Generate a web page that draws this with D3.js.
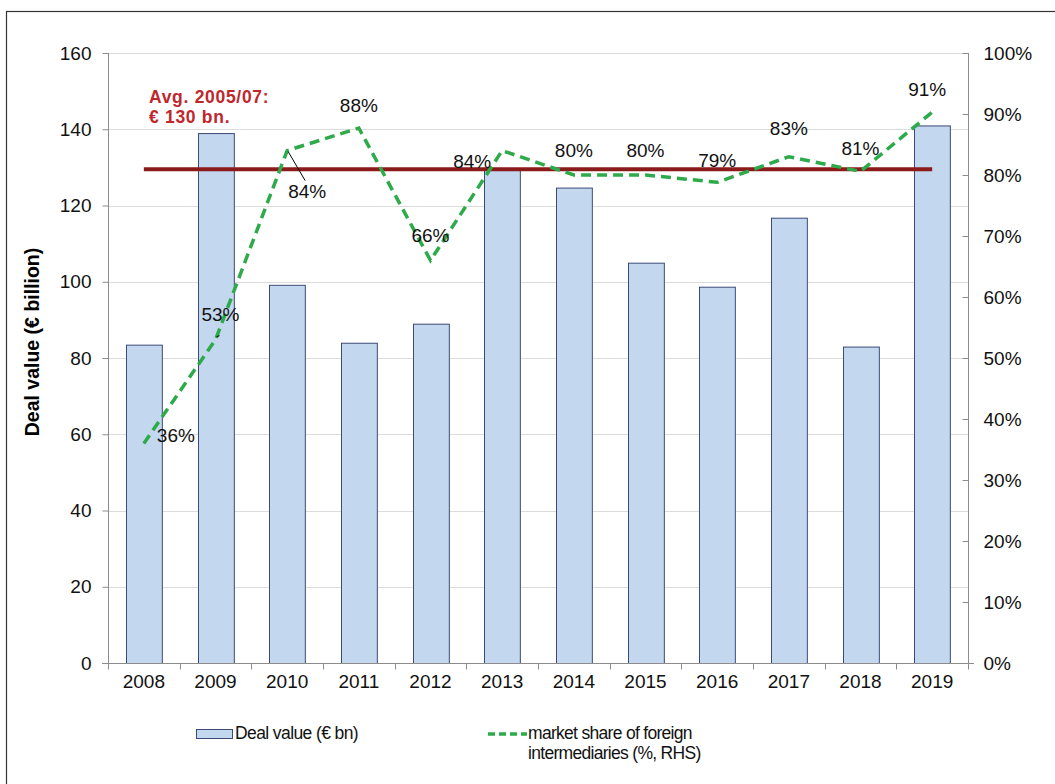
<!DOCTYPE html>
<html>
<head>
<meta charset="utf-8">
<script src="https://cdn.jsdelivr.net/npm/d3@7"></script>
<style>
  body { margin: 0; background: #fff; }
  text { font-family: "Liberation Sans", Arial, Helvetica, sans-serif; }
</style>
</head>
<body>
<svg id="chart" width="1055" height="784"></svg>
<script>
// ---- data ----
const years = ["2008","2009","2010","2011","2012","2013","2014","2015","2016","2017","2018","2019"];
const dealValues = [83.5, 139, 99.2, 84, 89, 129.8, 124.7, 105, 98.7, 116.8, 83, 141];
const foreignShare = [36, 53, 84, 87.7, 66, 84, 80, 80, 78.8, 83, 80.6, 90.3];
const shareLabels = ["36%","53%","84%","88%","66%","84%","80%","80%","79%","83%","81%","91%"];
const avgValue = 129.5;
const leftTicks = [0, 20, 40, 60, 80, 100, 120, 140, 160];
const rightTicks = [0, 10, 20, 30, 40, 50, 60, 70, 80, 90, 100];
// label offsets (dx, dy) from each point
const labelOffsets = [[32,-8],[5,-25],[20,41],[0,-23],[0,-25],[-30,11],[0,-25],[0,-25],[0,-22],[0,-28],[0,-23],[-5,-23]];

const svg = d3.select("#chart");
const m = {left: 108, right: 968, top: 53, bottom: 663};
const FONT_NUM = 19;

// frame
svg.append("rect").attr("x", 6.5).attr("y", 11.5).attr("width", 1060).attr("height", 800)
  .attr("fill", "none").attr("stroke", "#333").attr("stroke-width", 1.2);

const x = d3.scaleBand().domain(years).range([m.left, m.right]).paddingInner(0.5).paddingOuter(0.25);
const xb = d3.scaleBand().domain(years).range([m.left, m.right]);
const y = d3.scaleLinear().domain([0, 160]).range([m.bottom, m.top]);
const y2 = d3.scaleLinear().domain([0, 100]).range([m.bottom, m.top]);

// gridlines
svg.append("g").selectAll("line").data(leftTicks.slice(1)).join("line")
  .attr("x1", m.left).attr("x2", m.right)
  .attr("y1", d => Math.round(y(d)) + 0.5).attr("y2", d => Math.round(y(d)) + 0.5)
  .attr("stroke", "#dcdcdc").attr("stroke-width", 1);

// bars
svg.append("g").selectAll("rect").data(dealValues).join("rect")
  .attr("x", (d, i) => Math.round(x(years[i])) + 0.5)
  .attr("y", d => y(d) + 0.5)
  .attr("width", x.bandwidth())
  .attr("height", d => m.bottom - y(d))
  .attr("fill", "#c3d7ee").attr("stroke", "#3c4a78").attr("stroke-width", 1);

// axes
const axisColor = "#8c8c8c";
const gl = svg.append("g").attr("transform", `translate(${m.left + 0.5},0)`)
  .call(d3.axisLeft(y).tickValues(leftTicks).tickSize(6).tickPadding(11));
const gr = svg.append("g").attr("transform", `translate(${m.right + 0.5},0)`)
  .call(d3.axisRight(y2).tickValues(rightTicks).tickSize(6).tickPadding(9).tickFormat(d => d + "%"));
const gx = svg.append("g").attr("transform", `translate(0,${m.bottom + 0.5})`)
  .call(d3.axisBottom(xb).tickSize(0).tickPadding(11));
[gl, gr, gx].forEach(g => {
  g.select(".domain").attr("stroke", axisColor);
  g.selectAll(".tick line").attr("stroke", axisColor);
  g.selectAll("text").attr("font-size", FONT_NUM).attr("fill", "#111")
    .attr("font-family", "'Liberation Sans', Arial, sans-serif");
});
gr.selectAll(".tick line").attr("x1", -6).attr("x2", 0);
gr.select(".domain").attr("d", `M0,${m.top}V${m.bottom}`);
gl.select(".domain").attr("d", `M0,${m.top}V${m.bottom}`);
gx.select(".domain").attr("d", `M${m.left - 6},0H${m.right + 6}`);
// category boundary ticks
gx.append("g").selectAll("line").data(years.concat(["end"])).join("line")
  .attr("x1", (d, i) => Math.round(m.left + i * xb.bandwidth()) + 0.5)
  .attr("x2", (d, i) => Math.round(m.left + i * xb.bandwidth()) + 0.5)
  .attr("y1", 0).attr("y2", 6).attr("stroke", axisColor);

// average line
svg.append("line")
  .attr("x1", xb(years[0]) + xb.bandwidth() / 2)
  .attr("x2", xb(years[years.length - 1]) + xb.bandwidth() / 2)
  .attr("y1", y(avgValue)).attr("y2", y(avgValue))
  .attr("stroke", "#8b1a1a").attr("stroke-width", 4);

// share line
const pts = foreignShare.map((v, i) => [xb(years[i]) + xb.bandwidth() / 2, y2(v)]);
svg.append("path").datum(pts)
  .attr("d", d3.line())
  .attr("fill", "none").attr("stroke", "#2daa4a").attr("stroke-width", 3.5)
  .attr("stroke-dasharray", "10,6");

// leader lines
svg.append("line")
  .attr("x1", pts[2][0] + 1).attr("y1", pts[2][1] + 1)
  .attr("x2", pts[2][0] + 18).attr("y2", pts[2][1] + 30)
  .attr("stroke", "#000").attr("stroke-width", 1);
svg.append("line")
  .attr("x1", pts[1][0] + 4).attr("y1", pts[1][1] - 4)
  .attr("x2", pts[1][0] + 1).attr("y2", pts[1][1] - 1 - 2)
  .attr("stroke", "#000").attr("stroke-width", 1);

// data labels
svg.append("g").selectAll("text").data(shareLabels).join("text")
  .attr("x", (d, i) => pts[i][0] + labelOffsets[i][0])
  .attr("y", (d, i) => pts[i][1] + labelOffsets[i][1])
  .attr("text-anchor", "middle").attr("dominant-baseline", "central")
  .attr("font-size", FONT_NUM).attr("fill", "#111")
  .text(d => d);

// annotation
svg.append("text").attr("x", 149).attr("y", 103)
  .attr("font-size", 17.5).attr("letter-spacing", 0.7).attr("font-weight", "bold").attr("fill", "#c0272d")
  .text("Avg. 2005/07:");
svg.append("text").attr("x", 149).attr("y", 123)
  .attr("font-size", 17.5).attr("letter-spacing", 0.7).attr("font-weight", "bold").attr("fill", "#c0272d")
  .text("€ 130 bn.");

// y axis title
svg.append("text")
  .attr("transform", `translate(39,342) rotate(-90)`)
  .attr("text-anchor", "middle").attr("font-size", 19.5).attr("font-weight", "bold").attr("fill", "#000")
  .text("Deal value (€ billion)");

// legend
svg.append("rect").attr("x", 196.5).attr("y", 729.5).attr("width", 36).attr("height", 9)
  .attr("fill", "#c3d7ee").attr("stroke", "#3c4a78").attr("stroke-width", 1);
svg.append("text").attr("x", 235).attr("y", 739).attr("font-size", 17.5).attr("letter-spacing", -0.6)
  .attr("fill", "#111").text("Deal value (€ bn)");
svg.append("line").attr("x1", 488).attr("x2", 527).attr("y1", 734).attr("y2", 734)
  .attr("stroke", "#2daa4a").attr("stroke-width", 3.5).attr("stroke-dasharray", "7,4");
svg.append("text").attr("x", 528).attr("y", 739).attr("font-size", 17.5).attr("letter-spacing", -0.7)
  .attr("fill", "#111").text("market share of foreign");
svg.append("text").attr("x", 528).attr("y", 759).attr("font-size", 17.5).attr("letter-spacing", -0.7)
  .attr("fill", "#111").text("intermediaries (%, RHS)");
</script>
</body>
</html>
